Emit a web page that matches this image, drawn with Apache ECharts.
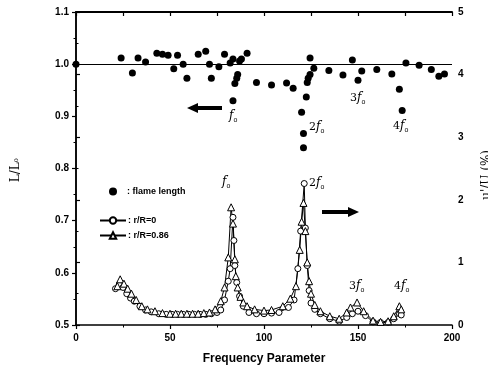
<!DOCTYPE html>
<html>
<head>
<meta charset="utf-8">
<script src="https://cdn.jsdelivr.net/npm/echarts@6/dist/echarts.min.js"></script>
<style>
  html, body { margin: 0; padding: 0; background: #fff; }
  #box { width: 488px; height: 378px; }
</style>
</head>
<body>
<div id="box"></div>
<script>
// flame length L/L0 (left axis)
var flameX = [0, 24, 30, 33, 37, 43, 46, 49, 52, 54, 57, 59, 65, 69, 71, 72, 76, 79, 82, 83.5, 83.5, 84.5, 85.5, 86, 87, 88, 91,
  96, 104, 112, 115.5, 120, 121, 121, 122.5, 123, 123.5, 124.5, 124.5, 126.5, 134.5, 142, 147, 150, 152, 160, 168, 172, 173.5,
  175.5, 182.5, 189, 193, 196];
var flameY = [1.0, 1.012, 0.983, 1.012, 1.004, 1.021, 1.019, 1.017, 0.991, 1.017, 1.0, 0.973, 1.019, 1.025, 1.0, 0.973, 0.995, 1.019, 1.002, 1.01, 0.93, 0.963, 0.973, 0.98, 1.006, 1.01, 1.021,
  0.965, 0.96, 0.964, 0.954, 0.908, 0.867, 0.84, 0.937, 0.965, 0.973, 0.98, 1.012, 0.992, 0.988, 0.979, 1.008, 0.969, 0.987, 0.99, 0.981, 0.952, 0.911,
  1.002, 0.998, 0.99, 0.977, 0.981];

// r/R = 0 (open circles, right axis)
var r0X = [21, 23, 25, 27, 29, 31, 34, 37, 40, 44, 48, 51, 54, 57, 60, 63, 66, 69, 72, 75, 77, 79, 81, 82, 83.5, 84, 84.5, 85.5, 87, 89, 92,
  96, 100, 104, 108, 113, 116, 118, 119.5, 121.4, 122, 123, 124, 125, 127, 130, 135, 140, 144, 147, 150, 154, 158, 162, 166, 169, 172, 173];
var r0Y = [0.58, 0.65, 0.6, 0.5, 0.43, 0.38, 0.3, 0.24, 0.21, 0.18, 0.17, 0.17, 0.17, 0.17, 0.17, 0.17, 0.17, 0.17, 0.18, 0.2, 0.24, 0.4, 0.7, 0.9, 1.72, 1.35, 0.95, 0.68, 0.46, 0.3, 0.2,
  0.18, 0.18, 0.19, 0.2, 0.28, 0.4, 0.9, 1.5, 2.26, 1.55, 0.95, 0.55, 0.35, 0.25, 0.18, 0.1, 0.06, 0.12, 0.18, 0.22, 0.15, 0.05, 0.04, 0.04, 0.1, 0.18, 0.16];

// r/R = 0.86 (open triangles, right axis)
var r86X = [22, 23.5, 25.5, 27.5, 29.5, 32, 35, 38, 42, 46, 50, 53, 56, 59, 62, 65, 68, 71, 74, 77, 79, 81, 82.5, 83.5, 84.5, 85, 86, 87.5, 89, 91,
  95, 100, 104, 110, 114, 117, 119, 120, 121, 122, 123, 124, 125, 127, 130, 135, 140, 144, 146, 149.5, 153, 158, 162, 166, 169, 172, 173];
var r86Y = [0.62, 0.73, 0.66, 0.58, 0.5, 0.4, 0.3, 0.25, 0.22, 0.19, 0.18, 0.18, 0.18, 0.18, 0.18, 0.18, 0.19, 0.2, 0.25, 0.38, 0.6, 1.08, 1.88, 1.62, 1.05, 0.78, 0.6, 0.45, 0.36, 0.3,
  0.25, 0.23, 0.24, 0.3, 0.42, 0.62, 1.2, 1.65, 1.95, 1.5, 1.0, 0.7, 0.5, 0.32, 0.22, 0.14, 0.1, 0.2, 0.28, 0.36, 0.22, 0.07, 0.05, 0.06, 0.14, 0.3, 0.25];

function pairs(xs, ys) {
  return xs.map(function (x, i) { return [x, ys[i]]; });
}

var lblFont = { color: '#000', fontFamily: 'Arial', fontWeight: 'bold', fontSize: 10 };
var tick = { show: true, inside: false, length: 4, lineStyle: { color: '#000', width: 1.2 } };
var minor = { show: true, splitNumber: 2, length: 2.5, lineStyle: { color: '#000', width: 1 } };

// f_o style annotation text
function fo(prefix, x, y) {
  return {
    type: 'text', left: x, top: y, silent: true,
    style: {
      text: '{n|' + prefix + '}{f|f}{s|o}',
      rich: {
        n: { fontFamily: 'DejaVu Serif', fontSize: 11, fill: '#000' },
        f: { fontFamily: 'DejaVu Serif', fontStyle: 'italic', fontSize: 12, fill: '#000' },
        s: { fontFamily: 'Arial', fontSize: 7, fill: '#000', padding: [9, 0, 0, 0] }
      }
    }
  };
}

var myChart = echarts.init(document.getElementById('box'));
var option = {
  animation: false,
  backgroundColor: '#fff',
  grid: { left: 76, right: 36, top: 12, bottom: 53, containLabel: false },
  legend: [
    {
      left: 104, top: 182, orient: 'vertical', itemWidth: 18, itemHeight: 8, itemGap: 4,
      data: [{ name: 'flame length', icon: 'circle' }],
      formatter: function (n) { return ': ' + n; },
      textStyle: { fontFamily: 'Arial', fontWeight: 'bold', fontSize: 9, color: '#000' }
    },
    {
      left: 94, top: 211, orient: 'vertical', itemWidth: 26, itemHeight: 8, itemGap: 6,
      data: ['r/R=0', 'r/R=0.86'],
      formatter: function (n) { return ': ' + n; },
      textStyle: { fontFamily: 'Arial', fontWeight: 'bold', fontSize: 9, color: '#000', padding: [0, 0, 0, -3] }
    }
  ],
  xAxis: [
    {
      type: 'value', min: 0, max: 200, interval: 50, position: 'bottom',
      name: 'Frequency Parameter', nameLocation: 'middle', nameGap: 28,
      nameTextStyle: { fontFamily: 'Arial', fontWeight: 'bold', fontSize: 12, color: '#000' },
      axisLine: { show: true, lineStyle: { color: '#000', width: 1.5 } },
      axisTick: tick, minorTick: minor,
      axisLabel: Object.assign({ margin: 8 }, lblFont),
      splitLine: { show: false }
    },
    {
      type: 'value', min: 0, max: 200, interval: 25, position: 'top',
      axisLine: { show: true, lineStyle: { color: '#000', width: 2 } },
      axisTick: { show: true, inside: true, length: 4, lineStyle: { color: '#000', width: 1.2 } },
      axisLabel: { show: false }, splitLine: { show: false }
    }
  ],
  yAxis: [
    {
      type: 'value', min: 0.5, max: 1.1, interval: 0.1, position: 'left',
      axisLine: { show: true, lineStyle: { color: '#000', width: 1.5 } },
      axisTick: tick, minorTick: minor,
      axisLabel: Object.assign({ margin: 7, formatter: function (v) { return v.toFixed(1); } }, lblFont),
      splitLine: { show: false }
    },
    {
      type: 'value', min: 0, max: 5, interval: 1, position: 'right',
      axisLine: { show: true, lineStyle: { color: '#000', width: 1.5 } },
      axisTick: tick, minorTick: minor,
      axisLabel: Object.assign({ margin: 6 }, lblFont),
      splitLine: { show: false }
    }
  ],
  series: [
    {
      name: 'flame length', type: 'scatter', xAxisIndex: 0, yAxisIndex: 0,
      data: pairs(flameX, flameY), symbol: 'circle', symbolSize: 7,
      itemStyle: { color: '#000', opacity: 1 },
      markLine: {
        silent: true, symbol: 'none', label: { show: false },
        lineStyle: { color: '#000', width: 1, type: 'solid' },
        data: [{ yAxis: 1.0 }]
      },
      z: 3
    },
    {
      name: 'r/R=0', type: 'line', xAxisIndex: 0, yAxisIndex: 1,
      data: pairs(r0X, r0Y), symbol: 'circle', symbolSize: 6,
      lineStyle: { color: '#000', width: 1 },
      itemStyle: { color: '#fff', borderColor: '#000', borderWidth: 1 },
      z: 2
    },
    {
      name: 'r/R=0.86', type: 'line', xAxisIndex: 0, yAxisIndex: 1,
      data: pairs(r86X, r86Y), symbol: 'triangle', symbolSize: 7,
      lineStyle: { color: '#000', width: 1 },
      itemStyle: { color: '#fff', borderColor: '#000', borderWidth: 1 },
      z: 2
    }
  ],
  graphic: [
    // y-axis titles
    {
      type: 'text', left: 10, top: 158, rotation: Math.PI / 2, silent: true,
      style: {
        text: '{a|L/L}{b|o}',
        rich: {
          a: { fontFamily: 'DejaVu Serif', fontSize: 12, fill: '#000' },
          b: { fontFamily: 'DejaVu Serif', fontSize: 7, fill: '#000' }
        }
      }
    },
    {
      type: 'text', left: 481, top: 150, rotation: Math.PI / 2, silent: true,
      style: { text: "u'/U (%)", fontFamily: 'DejaVu Serif', fontSize: 12, fill: '#000' }
    },
    // arrows
    { type: 'line', silent: true, shape: { x1: 196, y1: 108, x2: 222, y2: 108 }, style: { stroke: '#000', lineWidth: 4 } },
    { type: 'polygon', silent: true, shape: { points: [[187, 108], [198, 103], [198, 113]] }, style: { fill: '#000' } },
    { type: 'line', silent: true, shape: { x1: 322, y1: 212, x2: 350, y2: 212 }, style: { stroke: '#000', lineWidth: 4 } },
    { type: 'polygon', silent: true, shape: { points: [[359, 212], [348, 207], [348, 217]] }, style: { fill: '#000' } },
    // harmonic labels
    fo('', 229, 110),
    fo('2', 309, 121),
    fo('3', 350, 92),
    fo('4', 393, 120),
    fo('', 222, 176),
    fo('2', 309, 177),
    fo('3', 349, 280),
    fo('4', 394, 280)
  ]
};
myChart.setOption(option);
</script>
</body>
</html>
